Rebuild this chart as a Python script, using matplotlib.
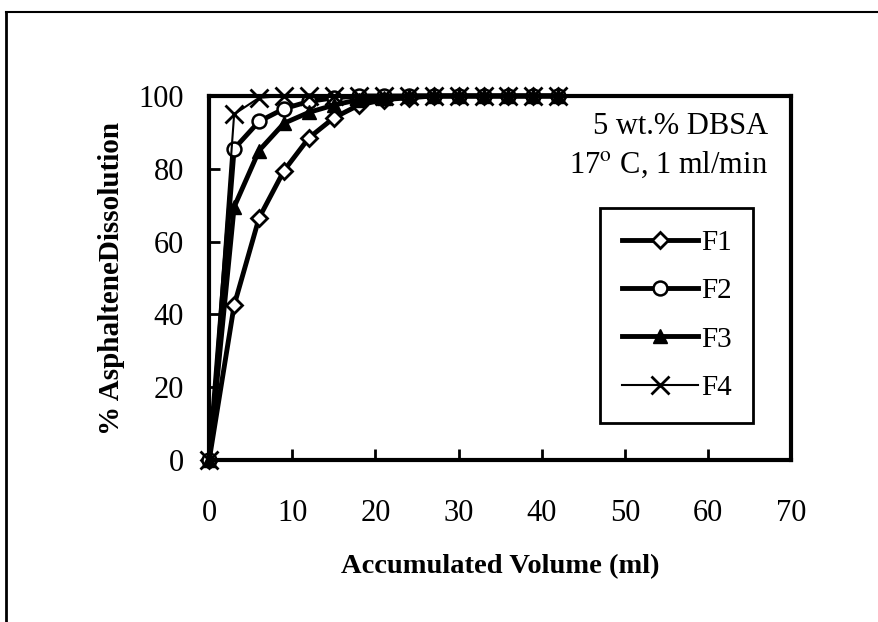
import numpy as np
import matplotlib
matplotlib.use("Agg")
import matplotlib.pyplot as plt
from matplotlib.lines import Line2D

plt.rcParams['font.family'] = ['Liberation Serif', 'DejaVu Serif']
plt.rcParams['mathtext.fontset'] = 'stix'

volume = [0, 3, 6, 9, 12, 15, 18, 21, 24, 27, 30, 33, 36, 39, 42]
f1 = [0, 42.5, 66.5, 79.5, 88.5, 94, 97.5, 99, 99.5, 100, 100, 100, 100, 100, 100]
f2 = [0, 85.5, 93, 96.5, 98.5, 99.5, 100, 100, 100, 100, 100, 100, 100, 100, 100]
f3 = [0, 69.5, 85, 92.5, 95.5, 97.5, 99, 99.5, 100, 100, 100, 100, 100, 100, 100]
f4 = [0, 95, 99.5, 100, 100, 100, 100, 100, 100, 100, 100, 100, 100, 100, 100]

fig = plt.figure(figsize=(8.79, 6.22), dpi=100)
ax = fig.add_axes([0.238, 0.2605, 0.662, 0.5852])

ax.plot(volume, f1, color='black', lw=3.5, marker='D', ms=8, mfc='white',
        mec='black', mew=2, label='F1', clip_on=False)
ax.plot(volume, f2, color='black', lw=3.5, marker='o', ms=10, mfc='white',
        mec='black', mew=1.8, label='F2', clip_on=False)
ax.plot(volume, f3, color='black', lw=3.5, marker='^', ms=10, mfc='black',
        mec='black', label='F3', clip_on=False)
ax.plot(volume, f4, color='black', lw=1.5, marker='x', ms=13, mew=2,
        label='F4', clip_on=False)

ax.set_xlim(0, 70)
ax.set_ylim(0, 100)
ax.set_xticks(np.arange(0, 71, 10))
ax.set_yticks(np.arange(0, 101, 20))
ax.tick_params(direction='in', length=8, width=2, labelsize=22)
ax.tick_params(axis='y', pad=18)
ax.tick_params(axis='x', pad=28)
for s in ax.spines.values():
    s.set_linewidth(3)

ax.set_xlabel('Accumulated Volume (ml)', fontsize=20.5, fontweight='bold', labelpad=19)
ax.set_ylabel('% AsphalteneDissolution', fontsize=21, fontweight='bold', labelpad=10)

ax.text(0.96, 0.915, '5 wt.% DBSA', transform=ax.transAxes, ha='right',
        va='center', fontsize=22)
ax.text(0.96, 0.81, r'17$^{\mathrm{o}}$ C, 1 ml/min', transform=ax.transAxes,
        ha='right', va='center', fontsize=22)

leg = ax.legend(loc='upper left', bbox_to_anchor=(0.672, 0.693), fontsize=21,
                handlelength=2.6, labelspacing=0.75, borderpad=0.75,
                handletextpad=0.1, borderaxespad=0, fancybox=False,
                edgecolor='black', framealpha=1)
leg.get_frame().set_linewidth(2)

# Frame of the scanned page
fig.add_artist(Line2D([0.007, 0.007], [0.0, 0.981], color='black', lw=2))
fig.add_artist(Line2D([0.007, 1.0], [0.981, 0.981], color='black', lw=1.5))

fig.savefig('out.png', dpi=100)
